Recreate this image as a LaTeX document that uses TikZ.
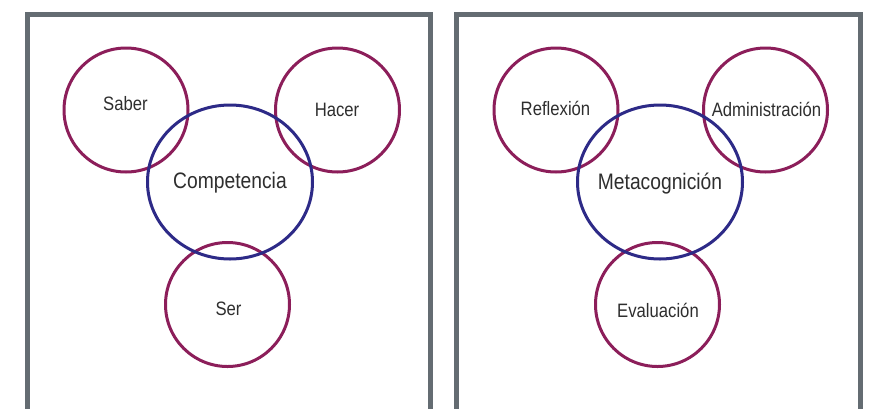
\documentclass[tikz,border=0pt]{standalone}
\usepackage{fontspec}
\setmainfont{Liberation Sans}
\usetikzlibrary{shapes.geometric}
\definecolor{framegray}{RGB}{100,108,114}
\definecolor{ringred}{RGB}{140,30,90}
\definecolor{ringblue}{RGB}{45,42,135}
% narrow setting of the labels
\newcommand{\narrowtext}[1]{\scalebox{0.86}[1]{#1}}
\tikzset{
  frame/.style={draw=framegray, line width=5pt, line join=miter},
  outer/.style={circle, draw=ringred, line width=3pt, minimum size=124pt, inner sep=0pt},
  core/.style={ellipse, draw=ringblue, line width=3pt, minimum width=165pt, minimum height=154pt, inner sep=0pt},
  small/.style={anchor=base, inner sep=0pt, font=\fontsize{19.4pt}{23pt}\selectfont, text=black!82},
  big/.style={anchor=base, inner sep=0pt, font=\fontsize{22.4pt}{26pt}\selectfont, text=black!82}
}
\begin{document}
\begin{tikzpicture}[x=1pt,y=-1pt]
  \useasboundingbox (0,0) rectangle (871,408);
  \clip (0,0) rectangle (871,408);
  \fill[white] (0,0) rectangle (871,408);

  % two open frames running off the lower edge
  \draw[frame] (27.5,420) -- (27.5,14) -- (430.5,14) -- (430.5,420);
  \draw[frame] (456.5,420) -- (456.5,14) -- (860.5,14) -- (860.5,420);

  % left panel: competencia
  \node[outer] (saber) at (126,110) {};
  \node[outer] (hacer) at (337.5,110) {};
  \node[outer] (ser) at (227.5,304.5) {};
  \node[core] (competencia) at (230,182) {};

  \node[small] (saberlbl) at (125.5,110.5) {\narrowtext{Saber}};
  \node[small] (hacerlbl) at (337,116) {\narrowtext{Hacer}};
  \node[small] (serlbl) at (228.5,315) {\narrowtext{Ser}};
  \node[big] (competencialbl) at (230,188.5) {\narrowtext{Competencia}};

  % right panel: metacognicion
  \node[outer] (reflexion) at (556,110) {};
  \node[outer] (administracion) at (765.5,110) {};
  \node[outer] (evaluacion) at (657.5,304.5) {};
  \node[core] (metacognicion) at (660,182) {};

  \node[small] (reflexionlbl) at (555.5,115) {\narrowtext{Reflexión}};
  \node[small] (administracionlbl) at (766.5,116.5) {\narrowtext{Administración}};
  \node[small] (evaluacionlbl) at (658,317) {\narrowtext{Evaluación}};
  \node[big] (metacognicionlbl) at (660,189.5) {\narrowtext{Metacognición}};
\end{tikzpicture}
\end{document}
